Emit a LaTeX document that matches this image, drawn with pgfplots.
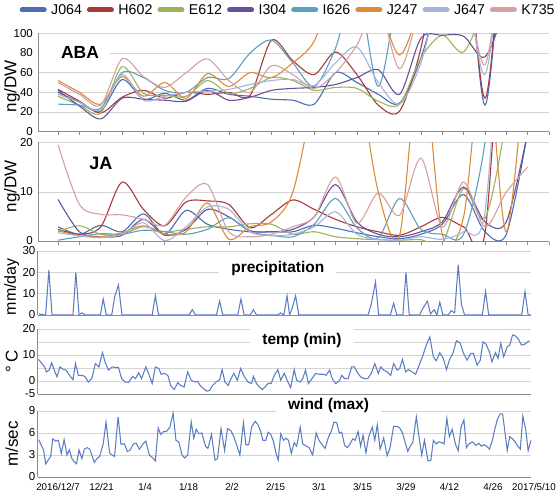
\documentclass[border=0pt]{standalone}
\usepackage{fontspec}
\setmainfont{Liberation Sans}
\usepackage{pgfplots}
\usepackage{pgfplotstable}
\pgfplotsset{compat=1.18}

\definecolor{cJ064}{HTML}{4A6EB5}
\definecolor{cH602}{HTML}{A83A3A}
\definecolor{cE612}{HTML}{9AB45A}
\definecolor{cI304}{HTML}{68509A}
\definecolor{cI626}{HTML}{5AA0C0}
\definecolor{cJ247}{HTML}{DD8A3A}
\definecolor{cJ647}{HTML}{A6B4DC}
\definecolor{cK735}{HTML}{D4A0A0}
\definecolor{wline}{HTML}{5A7CC2}
\definecolor{gridc}{HTML}{D4D4D4}
\definecolor{axisc}{HTML}{8C8C8C}

% ABA (ng/DW), weekly samples from 2016/12/7
\pgfplotstableread{
w  J064 H602 E612 I304 I626 J247 J647 K735
0  40   43   36   42   28   52   38   50
1  30   31   27   26   27   40   30   38
2  21   19   19   13   24   28   22   27
3  53   35   66   34   60   56   58   74
4  33   42   39   33   55   36   32   56
5  39   34   37   32   42   50   36   45
6  32   40   36   31   40   34   40   60
7  44   38   52   42   55   59   41   74
8  38   40   39   32   54   46   43   52
9  36   37   44   35   80   60   48   40
10 33   93   55   42   93   55   52   67
11 32   72   52   44   70   70   53   58
12 28   58   42   45   46   92   47   44
13 60   81   45   48   85   150  70   60
14 50   58   44   55   150  160  86   88
15 38   27   31   63   46   130  50   130
16 29   21   28   38   150  78   28   64
17 75   85   75   95   200  130  70   130
18 150  200  98   98   200  200  150  200
19 220  220  81   97   200  200  160  160
20 27   34   130  76   200  200  58   68
21 220  220  200  130  200  200  200  200
22 200  200  200  200  200  200  200  200
}\abadata

% JA (ng/DW)
\pgfplotstableread{
w  J064 H602 E612 I304 I626 J247 J647 K735
0  3.0  2.5  2.0  8.5  0.3  2.2  1.8  19.5
1  1.5  1.5  3.2  2.0  1.0  1.2  1.2  7.5
2  3.3  3.0  1.5  1.0  1.6  1.0  0.8  5.5
3  2.0  12.0 1.5  1.3  1.5  1.8  1.5  5.4
4  5.6  6.5  3.0  4.5  2.3  3.2  3.8  4.5
5  1.5  3.2  2.0  1.3  2.0  1.5  0.2  3.3
6  6.3  8.0  2.5  2.5  1.5  2.0  3.0  9.0
7  3.5  8.2  3.0  6.5  2.5  7.8  7.0  11.5
8  2.5  7.5  3.0  5.0  4.8  0.5  6.5  2.0
9  2.0  2.8  3.6  2.2  2.0  3.0  2.0  1.0
10 2.0  5.5  3.5  2.0  1.3  4.0  1.2  1.5
11 2.0  8.4  1.5  2.5  1.0  10.0 1.5  3.0
12 3.3  6.5  2.0  5.0  3.5  30   3.0  5.0
13 2.7  4.5  1.0  11.5 8.7  50   6.0  13.0
14 1.8  3.0  0.6  4.0  2.8  35   1.5  3.7
15 1.0  2.0  0.4  1.5  0.8  10   0.5  9.8
16 0.6  1.3  0.3  1.0  8.7  1.3  0.3  5.3
17 1.5  3.0  0.4  2.0  2.5  38   1.0  16.8
18 3.5  4.9  -0.3 4.0  1.5  1.5  0.5  3.0
19 9.5  3.0  10.7 11.0 1.5  5.0  2.0  12.0
20 2.0  1.7  4.7  4.0  20   40   6.0  3.0
21 1.5  60   25   4.0  60   2.0  60   10
22 22   80   60   22   80   42   80   15
}\jadata

% precipitation (mm/day)
\pgfplotstableread{
x y
108 0.5
128 0
137 21
146 0
205 0
213 20
222 0
230 1
240 0
282 0
290 7.5
299 0
314 0
323 9
333 14
343 0
428 0
437 9
446 0
532 0
541 2.5
550 0
609 0
618 6.5
627 0
669 0
678 7.5
687 0
704 0
713 2.5
722 0
781 0
790 1
799 0
808 9
815 0
822 3
832 9
841 0
1036 0
1045 5
1057 15.5
1066 0
1099 0
1108 5.5
1117 0
1134 0
1143 20
1152 0
1181 0
1190 3
1203 6.5
1212 0.5
1222 2.5
1230 0
1238 6
1247 0
1262 0
1270 2
1280 1
1290 23.5
1299 5
1308 0
1358 0
1367 11
1376 0
1469 0
1478 11
1487 0
1495 0
}\precip

% temperature (min)
\pgfplotstableread{
x y
108 8.3
125 5.4
130 3.5
138 4.2
145 7.0
152 4.2
160 1.6
168 5.4
178 4.4
185 4.2
195 2.2
205 0.5
212 6.7
220 2.2
228 2.2
238 1.8
248 -0.4
258 0.9
268 6.7
278 5.4
288 10.9
296 7.0
305 4.2
315 5.4
325 5.2
333 5.2
342 0.9
352 -0.4
362 -0.5
373 1.8
381 0.9
390 3.2
398 0.9
410 5.4
420 2.2
428 -1.0
437 5.4
447 4.8
453 2.6
462 2.9
472 2.2
480 -1.7
490 -3.3
500 -0.6
508 -1.7
518 -2.3
528 3.5
538 0.3
548 -0.4
556 -0.1
563 -1.7
572 -2.9
582 -3.9
590 -3.6
598 -1.7
608 -0.4
618 0.5
625 4.4
633 -0.4
642 -1.7
650 0.9
658 2.9
668 0.3
677 4.8
688 1.6
698 -0.4
708 -1.0
713 1.8
722 -1.0
730 -2.3
738 -3.3
746 -2.3
755 -0.8
763 -1.0
772 2.2
782 4.4
790 0.3
800 3.0
808 0.3
818 -2.6
828 4.4
835 0.3
845 -0.4
852 0.9
860 4.2
868 -1.0
878 0.9
888 2.9
898 2.6
910 2.6
918 2.2
928 4.2
935 0.9
945 -1.0
955 0.0
962 2.2
970 0.9
980 0.9
990 5.4
998 5.4
1005 3.5
1015 1.6
1025 0.9
1035 0.9
1045 2.9
1055 6.7
1065 2.9
1072 5.4
1080 4.2
1090 3.5
1100 2.2
1108 6.7
1118 4.2
1125 4.8
1133 8.3
1142 3.5
1150 4.4
1160 3.5
1170 2.6
1180 6.1
1190 9.6
1200 13.8
1210 17.0
1220 9.3
1228 7.8
1238 10.9
1248 8.7
1257 4.4
1265 8.0
1275 10.6
1285 15.5
1295 14.7
1305 10.6
1315 8.0
1325 10.6
1333 10.6
1343 6.1
1352 8.0
1360 15.1
1368 14.2
1378 11.2
1385 7.4
1395 10.9
1402 8.7
1410 14.5
1418 9.3
1428 13.2
1435 13.8
1443 17.7
1452 17.3
1460 16.0
1468 13.8
1478 14.2
1490 15.5
}\temp

% wind (max)
\pgfplotstableread{
x y
108 5.1
115 4.4
122 3.7
128 1.8
135 2.3
142 2.8
148 5.2
156 4.9
164 5.0
172 3.2
180 5.1
188 3.0
195 3.7
202 2.5
210 2.0
215 1.8
222 3.7
230 2.5
237 3.8
245 4.0
252 3.8
258 3.0
265 2.0
272 2.5
280 2.8
290 4.5
298 7.5
308 3.3
315 3.0
322 2.8
332 8.2
340 4.5
350 4.5
358 3.5
365 3.6
375 4.5
383 4.6
392 3.8
402 4.5
410 4.9
420 3.0
430 2.6
437 2.2
445 6.7
452 5.8
460 6.2
468 6.2
478 6.8
487 8.7
495 5.0
503 4.8
512 3.0
520 2.6
528 3.0
538 7.5
545 5.3
552 6.5
560 5.9
568 6.0
578 4.2
585 3.9
595 5.8
605 2.3
612 2.5
622 6.6
632 3.6
640 6.6
650 6.3
658 5.5
665 4.5
675 3.0
685 7.4
692 4.4
700 4.4
708 6.8
718 7.6
725 7.2
733 6.3
740 5.0
748 5.0
755 6.1
762 5.8
770 4.8
777 3.2
783 2.3
790 5.9
798 5.0
805 5.3
812 5.0
820 3.2
828 4.7
835 4.2
845 6.8
852 4.5
862 4.2
870 4.0
880 3.0
890 6.0
898 5.0
905 4.5
915 3.9
925 5.5
933 6.3
940 7.5
948 7.4
955 6.0
962 6.1
970 4.3
978 4.0
985 4.5
993 5.2
1000 5.0
1008 6.2
1015 4.2
1022 5.7
1030 3.3
1038 5.5
1048 6.8
1055 5.0
1062 7.1
1070 3.8
1080 5.3
1090 2.9
1098 4.0
1108 6.9
1118 6.9
1125 6.7
1133 6.0
1140 4.8
1148 3.5
1155 4.2
1162 4.7
1172 8.2
1178 6.0
1187 3.0
1195 5.0
1205 2.2
1213 2.3
1220 5.0
1228 4.5
1235 4.8
1243 4.7
1250 4.5
1258 8.0
1265 5.5
1273 6.5
1282 4.5
1290 3.6
1298 6.8
1306 7.8
1313 4.0
1320 4.5
1330 4.8
1340 4.3
1348 4.6
1355 4.2
1363 4.4
1370 4.2
1378 3.8
1385 4.8
1393 6.5
1400 7.8
1408 8.6
1415 8.6
1422 6.0
1428 3.6
1435 5.5
1443 5.2
1450 4.8
1458 4.2
1465 3.8
1472 8.3
1480 6.5
1487 3.6
1495 5.0
}\wind

\tikzset{ttl/.style={fill=white, font=\bfseries\fontsize{15.5}{16}\selectfont, inner xsep=12pt}}
\pgfplotsset{
  panel/.style={
    scale only axis, clip mode=individual,
    axis lines*=left,
    axis line style={draw=axisc, line width=0.8pt},
    ymajorgrids, grid style={draw=gridc, line width=0.7pt},
    ytick style={draw=none},
    yticklabel style={font=\fontsize{11.5}{12}\selectfont, inner xsep=2pt},
    /pgf/number format/assume math mode=true,
    ylabel style={font=\fontsize{17}{18}\selectfont, anchor=center},
  },
  horm/.style={panel, width=511pt, xmin=-0.94, xmax=23,
    xtick={0,...,23}, xticklabels={}, tick align=outside,
    major tick length=3pt, xtick style={draw=axisc, line width=0.6pt}},
  hl/.style={smooth, line width=1.1pt, mark=none},
  weather/.style={panel, width=493.5pt, xmin=105, xmax=1495, xtick style={draw=none}},
  wl/.style={wline, line width=1.05pt, mark=none},
}

\begin{document}
\begin{tikzpicture}
% ABA
\begin{axis}[horm, at={(38pt,366.3pt)}, anchor=south west, height=98.4pt,
  ymin=0, ymax=100, ytick={0,20,...,100},
  yticklabels={0,20,40,60,80,\raisebox{-3pt}{100}},
  ylabel={ng/DW}, ylabel style={at={(axis description cs:-0.051,0.46)}},
  legend style={at={(0.4895,1.237)}, anchor=center, draw=none, fill=none,
    legend columns=-1, font=\fontsize{14.2}{15}\selectfont,
    nodes={inner xsep=2pt, inner ysep=1pt},
    /tikz/every odd column/.append style={column sep=2.5pt},
    /tikz/every even column/.append style={column sep=3pt}},
  legend image code/.code={\draw[#1, line width=5pt, line cap=round] (0pt,0pt) -- (22pt,0pt);},
]
\addplot[hl, cJ064] table[x=w, y=J064] {\abadata}; \addlegendentry{J064}
\addplot[hl, cH602] table[x=w, y=H602] {\abadata}; \addlegendentry{H602}
\addplot[hl, cE612] table[x=w, y=E612] {\abadata}; \addlegendentry{E612}
\addplot[hl, cI304] table[x=w, y=I304] {\abadata}; \addlegendentry{I304}
\addplot[hl, cI626] table[x=w, y=I626] {\abadata}; \addlegendentry{I626}
\addplot[hl, cJ247] table[x=w, y=J247] {\abadata}; \addlegendentry{J247}
\addplot[hl, cJ647] table[x=w, y=J647] {\abadata}; \addlegendentry{J647}
\addplot[hl, cK735] table[x=w, y=K735] {\abadata}; \addlegendentry{K735}
\fill[white] (axis cs:-0.9,74) rectangle (axis cs:2.44,88);
\node[font=\bfseries\fontsize{17.5}{18}\selectfont] at (axis cs:1.03,81) {ABA};
\end{axis}
% JA
\begin{axis}[horm, at={(38pt,256.3pt)}, anchor=south west, height=99.4pt,
  ymin=0, ymax=20, ytick={0,10,20},
  yticklabels={\raisebox{1.5pt}{0},10,\raisebox{-3pt}{20}},
  ylabel={ng/DW}, ylabel style={at={(axis description cs:-0.051,0.56)}},
]
\addplot[hl, cJ064] table[x=w, y=J064] {\jadata};
\addplot[hl, cH602] table[x=w, y=H602] {\jadata};
\addplot[hl, cE612] table[x=w, y=E612] {\jadata};
\addplot[hl, cI304] table[x=w, y=I304] {\jadata};
\addplot[hl, cI626] table[x=w, y=I626] {\jadata};
\addplot[hl, cJ247] table[x=w, y=J247] {\jadata};
\addplot[hl, cJ647] table[x=w, y=J647] {\jadata};
\addplot[hl, cK735] table[x=w, y=K735] {\jadata};
\node[font=\bfseries\fontsize{18}{18}\selectfont] at (axis cs:2.01,15.8) {JA};
\end{axis}
% precipitation
\begin{axis}[weather, at={(37.5pt,183pt)}, anchor=south west, height=64pt,
  ymin=0, ymax=30, ytick={0,10,20,30}, yticklabels={0,10,20,\raisebox{-3pt}{30}}, xtick=\empty,
  ylabel={mm/day}, ylabel style={at={(axis description cs:-0.052,0.44)}, font=\fontsize{16}{17}\selectfont},
]
\addplot[wl] table[x=x, y=y] {\precip};
\node[ttl, inner ysep=2pt] at (axis cs:782,22) {precipitation};
\end{axis}
% temperature
\begin{axis}[weather, at={(37.5pt,104pt)}, anchor=south west, height=65pt,
  ymin=-5, ymax=20, ytick={-5,0,5,10,15,20}, yticklabels={-5,0,,10,,20}, xtick=\empty,
  ylabel={°\,C}, ylabel style={at={(axis description cs:-0.052,0.5)}},
]
\addplot[wl] table[x=x, y=y] {\temp};
\node[ttl, inner ysep=6pt] at (axis cs:850,15.4) {temp (min)};
\end{axis}
% wind
\begin{axis}[weather, at={(37.5pt,21pt)}, anchor=south west, height=66pt,
  ymin=0, ymax=9, ytick={0,3,6,9},
  xtick={163,285.5,408,530.5,653,775.5,898,1020.5,1143,1265.5,1388},
  xticklabels={2016/12/7,12/21,1/4,1/18,2/2,2/15,3/1,3/15,3/29,4/12,4/26},
  xticklabel style={font=\fontsize{9.8}{10}\selectfont, yshift=-3pt},
  extra x ticks={1495}, extra x tick labels={2017/5/10},
  extra x tick style={xticklabel style={xshift=3pt}, major tick length=0pt},
  ylabel={m/sec}, ylabel style={at={(axis description cs:-0.052,0.5)}},
]
\addplot[wl] table[x=x, y=y] {\wind};
\node[ttl, inner ysep=2pt] at (axis cs:925,9.7) {wind (max)};
\end{axis}
\pgfresetboundingbox
\path[use as bounding box] (0,0) rectangle (557pt,498pt);
\end{tikzpicture}
\end{document}
